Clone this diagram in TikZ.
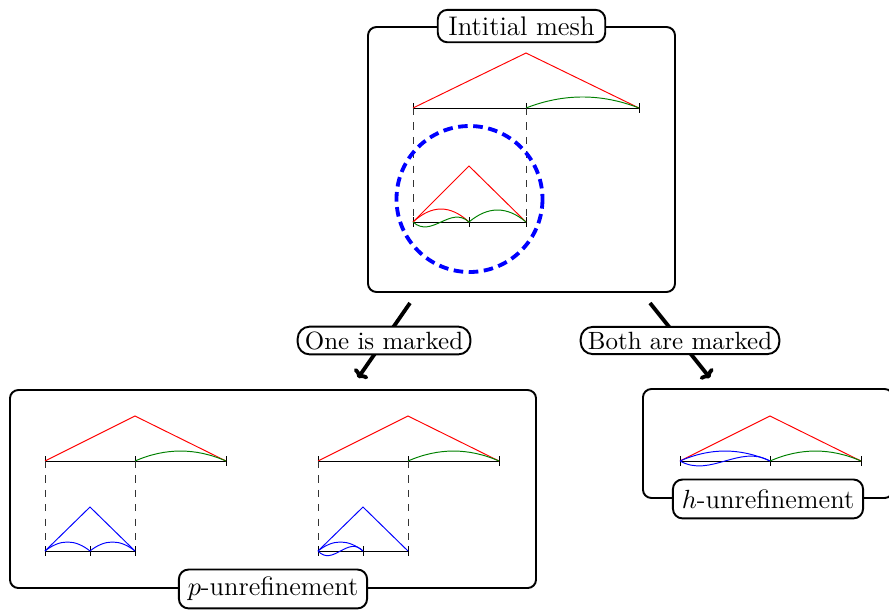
\documentclass[tikz,border=0pt]{standalone}
\usetikzlibrary{arrows.meta}
\begin{document}
\begin{tikzpicture}[x=0.41667pt,y=-0.41667pt,
  box/.style={draw, line width=0.8pt, rounded corners=3.5pt, inner sep=0pt},
  lbl/.style={draw, fill=white, line width=0.8pt, rounded corners=4pt, inner xsep=3.7pt, inner ysep=2.8pt},
  elbl/.style={draw, fill=white, line width=0.8pt, rounded corners=5pt, inner xsep=3pt, inner ysep=2pt, font=\fontsize{10.4}{12}\selectfont},
  arr/.style={line width=1.6pt, -{To[length=3pt,width=7pt]}},
  tk/.style={line width=0.4pt},
  gr/.style={green!50!black},
  dsh/.style={dashed, black!80},
  circ/.style={blue, line width=1.6pt, dash pattern=on 4pt off 2.3pt}]
\useasboundingbox (0,0) rectangle (889,609);

% boxes
\node[box, minimum width=127.9pt, minimum height=110.4pt] (top) at (521.5,159.5) {};
\node[box, minimum width=219.2pt, minimum height=82.5pt] (pl) at (273,489) {};
\node[box, minimum width=104.2pt, minimum height=45.4pt] (hr) at (768,443.5) {};

% titles
\node[lbl, inner xsep=4.4pt, minimum height=13.3pt, font=\fontsize{11.2}{13}\selectfont] (ttop) at (top.north) {Intitial mesh};
\node[lbl, minimum height=16.2pt, font=\fontsize{11.1}{13}\selectfont] (tpl) at (pl.south) {$p$-unrefinement};
\node[lbl, minimum height=16.2pt, font=\fontsize{11.1}{13}\selectfont] (thr) at (hr.south) {$h$-unrefinement};

% arrows
\coordinate (s1) at (410,303);
\coordinate (e1) at (358,378);
\coordinate (s2) at (650,303);
\coordinate (e2) at (710,378);
\draw[arr] (s1) -- node[elbl] (l1) {One is marked} (e1);
\draw[arr] (s2) -- node[elbl] (l2) {Both are marked} (e2);

% ---------- initial mesh ----------
\draw (413,108) -- (639,108);
\foreach \x in {413,526,639} \draw[tk] (\x,103) -- (\x,113);
\draw[red] (413,108) -- (526,53) -- (639,108);
\draw[gr] (526,108) .. controls (563.7,93.3) and (601.3,93.3) .. (639,108);
\draw[dsh] (413,108) -- (413,222);
\draw[dsh] (526,108) -- (526,222);
\draw (413,222) -- (526,222);
\foreach \x in {413,469,526} \draw[tk] (\x,217) -- (\x,227);
\draw[red] (413,222) -- (469,166) -- (526,222);
\draw[red] (413,222) .. controls (431.7,204.7) and (450.3,204.7) .. (469,222);
\draw[gr] (413,222) .. controls (431.7,239) and (450.3,205) .. (469,222);
\draw[gr] (469,222) .. controls (488,206) and (507,206) .. (526,222);
\draw[circ] (469.5,199) circle[radius=73];

% ---------- p-unrefinement ----------
\foreach \dx/\second in {0/0,273/1}{
\begin{scope}[shift={(\dx,0)}]
\draw (45,461) -- (226,461);
\foreach \x in {45,135,226} \draw[tk] (\x,456) -- (\x,466);
\draw[red] (45,461) -- (135,416) -- (226,461);
\draw[gr] (135,461) .. controls (165.3,447.7) and (195.7,447.7) .. (226,461);
\draw[dsh] (45,461) -- (45,551);
\draw[dsh] (135,461) -- (135,551);
\draw (45,551) -- (135,551);
\foreach \x in {45,90,135} \draw[tk] (\x,546) -- (\x,556);
\draw[blue] (45,551) -- (90,507) -- (135,551);
\draw[blue] (45,551) .. controls (60,539) and (75,539) .. (90,551);
\ifnum\second=0
  \draw[blue] (90,551) .. controls (105,539) and (120,539) .. (135,551);
\else
  \draw[blue] (45,551) .. controls (60,567) and (75,535) .. (90,551);
\fi
\end{scope}}

% ---------- h-unrefinement ----------
\draw (680,461) -- (861,461);
\foreach \x in {680,770,861} \draw[tk] (\x,456) -- (\x,466);
\draw[red] (680,461) -- (770,416) -- (861,461);
\draw[blue] (680,461) .. controls (710,447.7) and (740,447.7) .. (770,461);
\draw[blue] (680,461) .. controls (710,478) and (740,444) .. (770,461);
\draw[gr] (770,461) .. controls (800.3,447.7) and (830.7,447.7) .. (861,461);
\end{tikzpicture}
\end{document}
